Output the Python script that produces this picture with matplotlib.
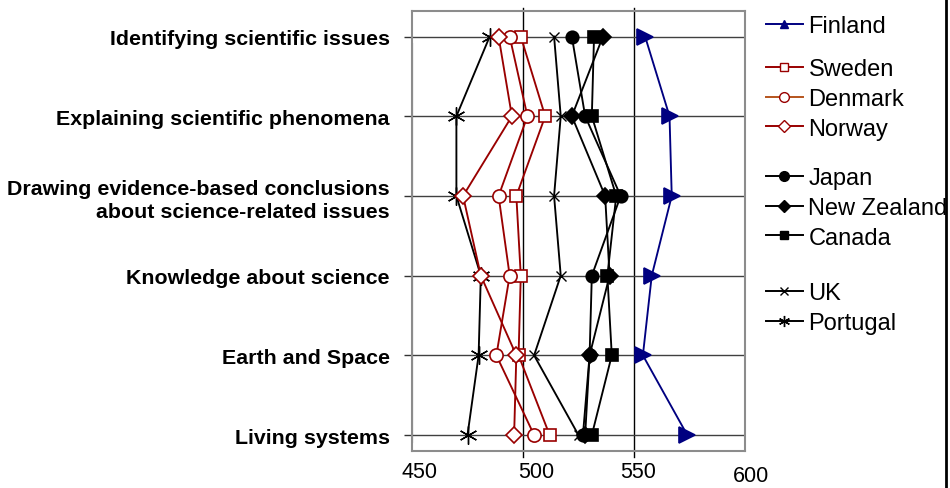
import matplotlib
matplotlib.use("Agg")
import matplotlib.pyplot as plt
from matplotlib.lines import Line2D
import matplotlib.transforms as mtrans

plt.rcParams['font.family'] = ['Liberation Sans', 'DejaVu Sans']

categories = ["Identifying scientific issues",
              "Explaining scientific phenomena",
              "Drawing evidence-based conclusions\nabout science-related issues",
              "Knowledge about science",
              "Earth and Space",
              "Living systems"]

finland = [555, 566, 567, 558, 554, 574]
sweden = [499, 510, 497, 499, 498, 512]
denmark = [494, 502, 489, 494, 488, 505]
norway = [489, 495, 473, 481, 497, 496]
japan = [522, 528, 544, 531, 530, 527]
new_zealand = [536, 522, 537, 539, 530, 528]
canada = [532, 531, 542, 538, 540, 531]
uk = [514, 517, 514, 517, 505, 525]
portugal = [485, 470, 470, 481, 480, 475]

x_ticks = [450, 500, 550, 600]
x_tick_labels = ["450", "500", "550", "600"]
x_grid = [500, 550]

NAVY = '#000080'
DRED = '#990000'
DORANGE = '#B5541C'

fig = plt.figure(figsize=(9.5, 4.89), dpi=100)
ax = fig.add_axes([412/950, 1-452/489, 333/950, 440/489])

ypos = list(range(len(categories)))

series = [
    # name, values, color, marker, ms, mfc, mec, mew, legend_marker, legend_ms
    ("Portugal", portugal, 'black', (6, 2, 0), 13, 'black', 'black', 1.0, (6, 2, 0), 8),
    ("UK", uk, 'black', 'x', 7, 'black', 'black', 1.0, 'x', 6),
    ("Canada", canada, 'black', 's', 8, 'black', 'black', 1.2, 's', 6),
    ("New Zealand", new_zealand, 'black', 'D', 8, 'black', 'black', 1.2, 'D', 6),
    ("Japan", japan, 'black', 'o', 9, 'black', 'black', 1.2, 'o', 7),
    ("Sweden", sweden, DRED, 's', 8, 'white', DRED, 1.2, 's', 6),
    ("Denmark", denmark, DRED, 'o', 9.5, 'white', DRED, 1.2, 'o', 7),
    ("Norway", norway, DRED, 'D', 8, 'white', DRED, 1.2, 'D', 6),
    ("Finland", finland, NAVY, '>', 11, NAVY, NAVY, 1.2, '^', 6),
]

handles = {}
for i, (name, vals, col, mk, ms, mfc, mec, mew, lmk, lms) in enumerate(series):
    ax.plot(vals, ypos, color=col, lw=1.35, marker=mk, ms=ms,
            mfc=mfc, mec=mec, mew=mew, zorder=3 + i, clip_on=False)
    lcol = DORANGE if name == "Denmark" else col
    handles[name] = Line2D([], [], color=lcol, lw=1.4, marker=lmk, ms=lms,
                           mfc=mfc, mec=mec, mew=1.0)

ax.set_xlim(450, 600)
ax.set_ylim(len(categories) - 1 + 0.2, -0.32)

ax.set_yticks(ypos)
ax.set_yticklabels(categories, fontsize=15.4, fontweight='bold',
                   linespacing=1.3, ha='right')
ax.tick_params(axis='y', length=6, width=1, color='#333333', pad=10)

ax.set_xticks(x_ticks)
ax.set_xticklabels(x_tick_labels, fontsize=15.5)
ax.tick_params(axis='x', length=0, pad=7)
offsets = [(7, 0), (13, 0), (4, 0), (6, -4)]
for lab, (dx, dy) in zip(ax.get_xticklabels(), offsets):
    lab.set_transform(lab.get_transform() +
                      mtrans.ScaledTranslation(dx/100, dy/100, fig.dpi_scale_trans))

ax.grid(axis='y', color='#404040', lw=1)
for xv in x_grid:
    ax.axvline(xv, ymin=-0.014, ymax=1.006, color='black', lw=1, clip_on=False, zorder=1)
ax.axvline(450, ymin=0.02, ymax=0.925, color='black', lw=1.5, zorder=2)

for s in ax.spines.values():
    s.set_color('#8c8c8c')
    s.set_linewidth(1.5)

groups = [(["Finland"], 27),
          (["Sweden", "Denmark", "Norway"], 100),
          (["Japan", "New Zealand", "Canada"], 209),
          (["UK", "Portugal"], 309)]
for names, yc in groups:
    fig.legend([handles[n] for n in names], names, loc='center left',
               bbox_to_anchor=(766/950, 1 - yc/489), frameon=False,
               fontsize=17, borderpad=0, borderaxespad=0, handlelength=1.55,
               handletextpad=0.25, labelspacing=0.32)

fig.add_artist(Line2D([946/950, 946/950], [0, 1], transform=fig.transFigure,
                      color='black', lw=2))

fig.savefig("out.png", dpi=100)
